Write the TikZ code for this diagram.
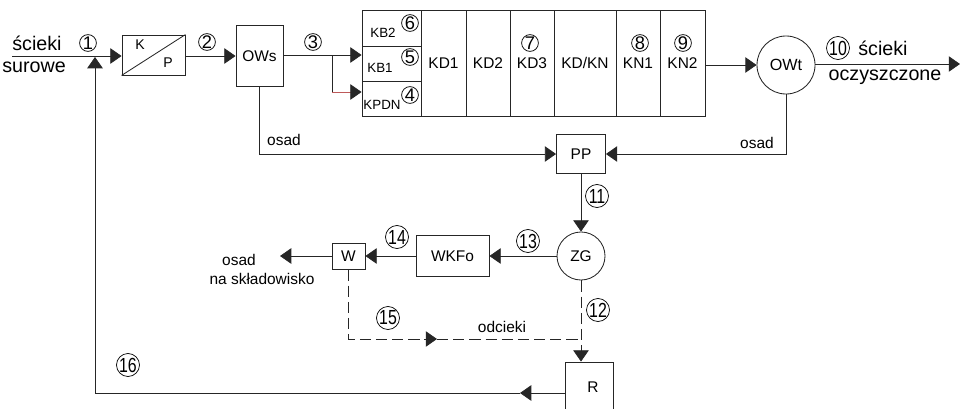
\documentclass[tikz,border=0pt]{standalone}
\usepackage{graphicx}
\usepackage{fontspec}
\setmainfont{Liberation Sans}
\usetikzlibrary{arrows.meta,positioning,calc}
\definecolor{kpdnred}{RGB}{190,90,90}
\newcommand{\twodig}[1]{\scalebox{0.78}[1]{#1}}

\begin{document}
\begin{tikzpicture}[
  x=0.025cm, y=-0.025cm,
  unit/.style={draw=black!85, line width=0.6pt, inner sep=0pt, font=\fontsize{11}{13}\selectfont},
  cell/.style={draw=black!85, line width=0.6pt, inner sep=0pt, minimum width=1.475cm},
  column/.style={draw=black!85, line width=0.6pt, inner sep=0pt, minimum height=2.65cm, font=\fontsize{11}{13}\selectfont},
  txt/.style={font=\fontsize{11}{13}\selectfont, inner sep=0pt},
  bigtxt/.style={font=\fontsize{14}{16}\selectfont, inner sep=0pt},
  smalltxt/.style={font=\fontsize{9.5}{11}\selectfont, inner sep=0pt},
  num/.style={circle, draw=black, line width=0.5pt, inner sep=0pt, minimum size=0.42cm, font=\fontsize{13}{15}\selectfont},
  numw/.style={num, minimum size=0.575cm, font=\fontsize{14.5}{16}\selectfont},
  pipe/.style={draw=black!85, line width=0.6pt},
  flow/.style={pipe, -{Triangle[length=8pt,width=11pt]}},
  dflow/.style={flow, dash pattern=on 8pt off 3.5pt},
  dpipe/.style={pipe, dash pattern=on 8pt off 3.5pt}
]
  \useasboundingbox (0,0) rectangle (960,408);

  % raw sewage and pretreatment
  \node[bigtxt] (rawa) at (37,43) {ścieki};
  \node[bigtxt, anchor=east] (rawb) at (66,67) {surowe};
  \node[num] (n1) at (88,43) {1};
  \node[unit, minimum width=1.575cm, minimum height=1cm] (kp) at (153.5,55) {};
  \draw[pipe] (kp.south west) -- (kp.north east);
  \node[txt, font=\fontsize{10}{12}\selectfont] (kl) at (140,45) {K};
  \node[txt, font=\fontsize{10}{12}\selectfont] (pl) at (168,63) {P};
  \node[num] (n2) at (207,42) {2};
  \node[unit, minimum width=1.175cm, minimum height=1.525cm] (ows) at (259.5,56) {OWs};
  \node[num] (n3) at (313,42) {3};

  % biological block
  \node[cell, minimum height=0.9cm] (kb2) at (391.5,28) {};
  \node[cell, minimum height=0.875cm] (kb1) at (391.5,63.5) {};
  \node[cell, minimum height=0.875cm] (kpdn) at (391.5,98.5) {};
  \node[smalltxt] (kb2l) at (383,33) {KB2};
  \node[smalltxt] (kb1l) at (380,68) {KB1};
  \node[smalltxt] (kpdnl) at (382,105) {KPDN};
  \node[num] (n6) at (410,23) {6};
  \node[num] (n5) at (410,57) {5};
  \node[num] (n4) at (410,95) {4};

  \node[column, minimum width=1.125cm] (kd1) at (443.5,63) {KD1};
  \node[column, minimum width=1.1cm] (kd2) at (488,63) {KD2};
  \node[column, minimum width=1.1cm] (kd3) at (532,63) {KD3};
  \node[column, minimum width=1.55cm] (kdkn) at (585,63) {KD/KN};
  \node[column, minimum width=1.1cm] (kn1) at (638,63) {KN1};
  \node[column, minimum width=1.125cm] (kn2) at (682.5,63) {KN2};
  \node[num, fill=white] (n7) at (530,43) {7};
  \node[num, fill=white] (n8) at (640,43) {8};
  \node[num, fill=white] (n9) at (683,43) {9};

  % secondary settling and outlet
  \node[unit, circle, minimum size=1.45cm, font=\fontsize{11.5}{13}\selectfont] (owt) at (786,65) {OWt};
  \node[numw] (n10) at (838,48) {\twodig{10}};
  \node[bigtxt] (cleana) at (883,48) {ścieki};
  \node[bigtxt] (cleanb) at (885,77) {oczyszczone};

  % sludge line
  \node[unit, minimum width=1.225cm, minimum height=0.975cm] (pp) at (581,154) {PP};
  \node[unit, circle, minimum size=1.2cm] (zg) at (581,256) {ZG};
  \node[unit, minimum width=1.825cm, minimum height=1.025cm] (wkfo) at (452.5,256) {WKFo};
  \node[unit, minimum width=0.825cm, minimum height=0.65cm] (w) at (348.5,256) {W};
  \node[unit, minimum width=1.2cm, minimum height=1.55cm] (r) at (589,393) {};
  \node[txt] (rl) at (593,387) {R};

  \node[txt] (osad1) at (284,140) {osad};
  \node[txt] (osad2) at (757,143) {osad};
  \node[txt] (osad3) at (239,260) {osad};
  \node[txt] (skl) at (262,279) {na składowisko};
  \node[txt] (odc) at (502,327) {odcieki};
  \node[numw] (n11) at (597,196) {\twodig{11}};
  \node[numw] (n12) at (598,310) {\twodig{12}};
  \node[numw] (n13) at (528,241) {\twodig{13}};
  \node[numw] (n14) at (397,237) {\twodig{14}};
  \node[numw] (n15) at (388,318) {\twodig{15}};
  \node[numw] (n16) at (128,365) {\twodig{16}};

  % connectors
  \coordinate (in) at (12,56);
  \coordinate (j1) at (332,55);
  \coordinate (j2) at (332,92);
  \coordinate (j3) at (351,92);
  \coordinate (out) at (960,64);
  \coordinate (dump) at (280,256);
  \coordinate (d1) at (348.5,339);
  \coordinate (d2) at (437,339);
  \coordinate (d3) at (580,339);
  \coordinate (r1) at (520,393);
  \coordinate (r2) at (95,393);
  \coordinate (r3) at (95,57);

  \draw[flow] (in) -- (kp.west |- in);
  \draw[flow] (kp.east |- in) -- (ows.west |- in);
  \draw[flow] (ows.east |- j1) -- (j1 -| kb1.west);
  \draw[pipe] (j1) -- (j2);
  \draw[pipe, draw=kpdnred] (j2) -- (j3);
  \draw[flow] (j3) -- (j2 -| kpdn.west);
  \draw[flow] (kn2.east |- owt) -- (owt.west);
  \draw[flow] (owt.east |- out) -- (out);
  \draw[flow] (ows.south) |- (pp.west);
  \draw[flow] (owt.south) |- (pp.east);
  \draw[flow] (pp.south) -- (zg.north);
  \draw[flow] (zg.west) -- (wkfo.east);
  \draw[flow] (wkfo.west) -- (w.east);
  \draw[flow] (w.west) -- (dump);
  \draw[dflow] (w.south) -- (d1) -- (d2);
  \draw[dpipe] (d2) -- (d3);
  \draw[dflow] (zg.south) -- (zg.south |- r.north);
  \draw[flow] (r.west) -- (r1);
  \draw[flow] (r1) -- (r2) -- (r3);
\end{tikzpicture}
\end{document}
